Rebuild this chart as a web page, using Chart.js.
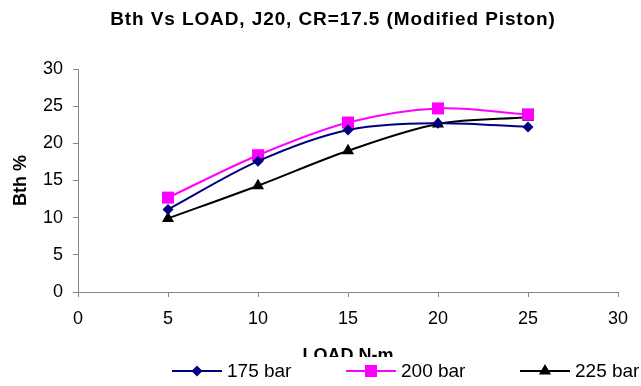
<!DOCTYPE html>
<html>
<head>
<meta charset="utf-8">
<script src="https://cdn.jsdelivr.net/npm/chart.js@4"></script>
<style>
	html, body { margin: 0; padding: 0; background: #fff; }
	#wrap { width: 641px; height: 386px; }
</style>
</head>
<body>
<div id="wrap"><canvas id="BthChart" width="641" height="386"></canvas></div>
<script>
const loads = [5, 10, 15, 20, 25];
const bth_175 = [11.1, 17.6, 21.8, 22.7, 22.2];
const bth_200 = [12.7, 18.4, 22.8, 24.7, 23.9];
const bth_225 = [9.9, 14.3, 19.0, 22.6, 23.5];
const series_labels = ["175 bar", "200 bar", "225 bar"];
const axis_range = [0, 30];
const axis_step = 5;

const FONT = "'Liberation Sans', Arial, sans-serif";
const AXIS_GREY = "#868686";

function to_points(values) {
	return loads.map((load, i) => ({x: load, y: values[i]}));
}

function make_dataset(label, values, color, style, radius) {
	return {
		label,
		data: to_points(values),
		borderColor: color,
		backgroundColor: color,
		borderWidth: 2,
		pointStyle: style,
		pointRadius: radius,
		pointHoverRadius: radius,
		pointBorderWidth: 0,
		tension: 0.33
	};
}

// excel style legend: line with marker, drawn over the bottom of the x title
const bottom_legend = {
	id: "bottom_legend",
	afterDraw(chart) {
		const ctx = chart.ctx;
		ctx.save();
		ctx.fillStyle = "#fff";
		ctx.fillRect(0, 357, chart.width, chart.height - 357);
		ctx.font = "19px " + FONT;
		ctx.textBaseline = "middle";
		const y = 371;
		let x = 172;
		chart.data.datasets.forEach(ds => {
			ctx.strokeStyle = ds.borderColor;
			ctx.lineWidth = 2;
			ctx.beginPath();
			ctx.moveTo(x, y);
			ctx.lineTo(x + 50, y);
			ctx.stroke();
			ctx.fillStyle = ds.backgroundColor;
			Chart.helpers.drawPoint(ctx, {pointStyle: ds.pointStyle, radius: ds.pointRadius, rotation: 0, borderWidth: 0}, x + 25, y);
			ctx.fillStyle = "#000";
			ctx.fillText(ds.label, x + 55, y + 1);
			x += 174;
		});
		ctx.restore();
	}
};

// the original title is centred a bit right of the canvas and slightly stretched
const shift_title = {
	id: "shift_title",
	afterInit(chart) {
		const block = chart.titleBlock;
		const draw = block.draw.bind(block);
		block.draw = area => {
			chart.ctx.save();
			chart.ctx.letterSpacing = "0.9px";
			draw(area);
			chart.ctx.restore();
		};
	},
	afterLayout(chart) {
		chart.titleBlock.left += 48;
	}
};

const context = document.getElementById("BthChart").getContext("2d");
const chart = new Chart(context, {
	type: "line",
	data: {
		datasets: [
			make_dataset(series_labels[0], bth_175, "#000080", "rectRot", 5.5),
			make_dataset(series_labels[1], bth_200, "#FF00FF", "rect", 8.5),
			make_dataset(series_labels[2], bth_225, "#000000", "triangle", 7)
		]
	},
	plugins: [bottom_legend, shift_title],
	options: {
		responsive: false,
		animation: false,
		layout: {padding: {left: 0, right: 23, top: 0, bottom: 0}},
		plugins: {
			legend: {display: false},
			tooltip: {enabled: false},
			title: {
				display: true,
				text: "Bth Vs LOAD, J20, CR=17.5 (Modified Piston)",
				color: "#000",
				font: {family: FONT, size: 19, weight: "bold"},
				padding: {top: 8, bottom: 38.2}
			}
		},
		scales: {
			x: {
				type: "linear",
				min: axis_range[0],
				max: axis_range[1],
				afterFit: scale => { scale.height = 94; },
				ticks: {stepSize: axis_step, color: "#000", font: {family: FONT, size: 18}, padding: 11, maxRotation: 0},
				grid: {drawOnChartArea: false, drawTicks: true, tickLength: 5, color: AXIS_GREY},
				border: {color: AXIS_GREY, width: 1},
				title: {
					display: true,
					text: "LOAD N-m",
					color: "#000",
					font: {family: FONT, size: 18, weight: "bold"},
					padding: {top: 0, bottom: 18.7}
				}
			},
			y: {
				min: axis_range[0],
				max: axis_range[1],
				afterFit: scale => { scale.width = 78; },
				ticks: {stepSize: axis_step, color: "#000", font: {family: FONT, size: 18}, padding: 10},
				grid: {drawOnChartArea: false, drawTicks: true, tickLength: 5, color: AXIS_GREY},
				border: {color: AXIS_GREY, width: 1},
				title: {
					display: true,
					text: "Bth %",
					color: "#000",
					font: {family: FONT, size: 18, weight: "bold"},
					padding: {top: 10, bottom: 0}
				}
			}
		}
	}
});
</script>
</body>
</html>
